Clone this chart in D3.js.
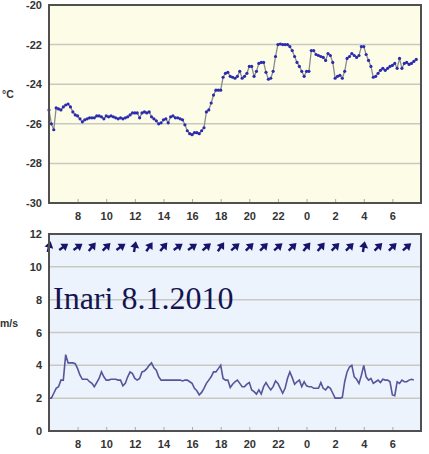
<!DOCTYPE html>
<html>
<head>
<meta charset="utf-8">
<script src="https://cdn.jsdelivr.net/npm/d3@7"></script>
<style>
  body { margin: 0; background: #fff; }
</style>
</head>
<body>
<svg width="429" height="454"></svg>
<script>
// temperature, one value every 10 minutes from 6:00 (8.1.) to 7:40 (9.1.)
var tempValues = [
  -25.3, -26.0, -26.3, -25.2, -25.25, -25.3,     // 6
  -25.15, -25.05, -25.0, -25.15, -25.4, -25.55,  // 7
  -25.6, -25.75, -25.9, -25.8, -25.75, -25.7,    // 8
  -25.7, -25.7, -25.6, -25.6, -25.65, -25.75,    // 9
  -25.6, -25.65, -25.6, -25.65, -25.7, -25.75,   // 10
  -25.7, -25.75, -25.7, -25.65, -25.55, -25.45,  // 11
  -25.45, -25.45, -25.7, -25.45, -25.4, -25.45,  // 12
  -25.4, -25.65, -25.75, -25.85, -26.0, -25.95,  // 13
  -25.8, -25.75, -25.95, -25.65, -25.6, -25.7,   // 14
  -25.7, -25.75, -25.8, -26.05, -26.35, -26.5,   // 15
  -26.55, -26.45, -26.45, -26.5, -26.35, -26.2,  // 16
  -25.4, -25.3, -24.95, -24.55, -24.3, -24.3,    // 17
  -24.3, -23.65, -23.45, -23.4, -23.6, -23.65,   // 18
  -23.7, -23.6, -23.35, -23.7, -23.6, -23.45,    // 19
  -23.1, -23.1, -23.6, -23.35, -22.95, -22.9,    // 20
  -22.9, -23.4, -23.75, -23.7, -23.35, -22.6,    // 21
  -22.0, -21.97, -22.0, -22.0, -22.0, -22.1,     // 22
  -22.3, -22.6, -22.9, -23.1, -23.35, -23.6,     // 23
  -23.35, -23.35, -22.3, -22.3, -22.5, -22.55,   // 0
  -22.6, -22.65, -22.8, -22.45, -22.55, -22.9,   // 1
  -23.7, -23.6, -23.55, -23.7, -23.35, -22.7,    // 2
  -22.6, -22.45, -22.55, -22.65, -22.55, -22.1,  // 3
  -22.1, -22.5, -22.8, -23.1, -23.65, -23.6,     // 4
  -23.45, -23.3, -23.2, -23.3, -23.2, -23.1,     // 5
  -23.05, -22.95, -23.2, -22.7, -23.2, -22.95,   // 6
  -22.9, -23.0, -22.95, -22.85, -22.75           // 7
];

// wind speed m/s, every 10 minutes from 6:00 to 7:30
var windValues = [
  2.0, 2.0, 2.3, 2.6, 2.7, 3.1,        // 6
  3.1, 4.65, 4.15, 4.15, 4.15, 4.1,    // 7
  3.8, 3.4, 3.15, 3.15, 3.15, 3.0,     // 8
  2.9, 2.7, 2.95, 3.2, 3.6, 3.3,       // 9
  3.1, 3.1, 3.15, 3.15, 3.15, 3.1,     // 10
  3.1, 2.75, 2.9, 3.3, 3.6, 3.5,       // 11
  3.2, 3.1, 3.2, 3.6, 3.65, 3.8,       // 12
  4.0, 4.15, 3.85, 3.7, 3.3, 3.1,      // 13
  3.1, 3.1, 3.1, 3.1, 3.1, 3.1,        // 14
  3.1, 3.1, 3.05, 3.1, 3.1, 3.0,       // 15
  2.9, 2.6, 2.45, 2.2, 2.35, 2.6,      // 16
  2.9, 3.1, 3.3, 3.6, 3.6, 3.8,        // 17
  4.0, 3.2, 3.1, 3.1, 2.65, 2.85,      // 18
  3.0, 3.1, 2.9, 2.7, 2.7, 2.85,       // 19
  2.95, 2.5, 2.4, 2.25, 2.5, 2.25,     // 20
  2.7, 2.95, 2.7, 2.5, 2.7, 3.05,      // 21
  2.9, 2.6, 2.3, 2.6, 3.2, 3.6,        // 22
  3.25, 2.85, 3.0, 3.1, 2.7, 3.0,      // 23
  2.75, 2.7, 2.7, 2.6, 2.6, 2.6,       // 0
  2.95, 2.6, 2.5, 2.7, 2.6, 2.3,       // 1
  2.0, 2.0, 2.0, 2.05, 3.0, 3.6,       // 2
  3.9, 4.0, 3.3, 3.15, 2.9, 3.4,       // 3
  4.0, 3.3, 3.1, 3.2, 2.9, 3.0,        // 4
  3.1, 2.95, 3.15, 3.1, 3.1, 3.0,      // 5
  2.2, 2.15, 3.0, 2.9, 3.1, 3.0,       // 6
  3.0, 3.1, 3.15, 3.1                  // 7
];

// wind direction arrows, one per hour from 6:00, degrees the arrow points to (0 = up)
var arrowAngles = [15, 55, 55, 40, 45, 55, 10, 35, 40, 55, 55, 50, 35,
                   50, 45, 45, 50, 45, 40, 40, 45, 45, 10, 45, 45, 50];

var hourTicks = [8, 10, 12, 14, 16, 18, 20, 22, 24, 26, 28, 30];
var tempTicks = [-20, -22, -24, -26, -28, -30];
var windTicks = [0, 2, 4, 6, 8, 10, 12];
var title = "Inari 8.1.2010";

var sans = "Arial, 'Liberation Sans', sans-serif";
var svg = d3.select("svg");
var left = 49, right = 421;

var x = d3.scaleLinear().domain([6, 32]).range([left, right]);
var yT = d3.scaleLinear().domain([-30, -20]).range([203, 5]);
var yW = d3.scaleLinear().domain([0, 12]).range([431, 234]);

var tempData = tempValues.map((v, i) => ({h: 6 + i / 6, v: v}));
var windData = windValues.map((v, i) => ({h: 6 + i / 6, v: v}));
var arrowData = arrowAngles.map((a, i) => ({h: 6 + i, a: a}));

function panel(y, ticks, bg, unit, unitX, unitY) {
  var top = y.range()[1], bottom = y.range()[0];
  var g = svg.append("g");
  g.append("rect")
    .attr("x", left).attr("y", top)
    .attr("width", right - left).attr("height", bottom - top)
    .attr("fill", bg);

  g.selectAll(".grid").data(ticks.filter(t => t !== y.domain()[0] && t !== y.domain()[1]))
    .enter().append("line")
    .attr("x1", left).attr("x2", right)
    .attr("y1", d => y(d)).attr("y2", d => y(d))
    .attr("stroke", "#c9c9c2").attr("stroke-width", 1.5);

  // y axis labels (plain hyphen for minus, like the original)
  var ya = g.append("g")
    .attr("transform", "translate(" + left + ",0)")
    .call(d3.axisLeft(y).tickValues(ticks).tickFormat(d => String(d)).tickSize(0).tickPadding(7));
  ya.select(".domain").remove();
  ya.selectAll("text")
    .attr("font-size", 11).attr("font-weight", "bold")
    .attr("fill", "#333").style("font-family", sans);

  // x axis
  var xa = g.append("g")
    .attr("transform", "translate(0," + bottom + ")")
    .call(d3.axisBottom(x).tickValues(hourTicks).tickFormat(d => d % 24)
      .tickSizeInner(-4).tickSizeOuter(0).tickPadding(9));
  xa.select(".domain").remove();
  xa.selectAll("line").attr("stroke", "#aaa");
  xa.selectAll("text")
    .attr("font-size", 11).attr("font-weight", "bold")
    .attr("fill", "#333").style("font-family", sans);

  g.append("text")
    .attr("x", unitX).attr("y", unitY)
    .attr("font-size", 10.5).attr("font-weight", "bold").attr("fill", "#333")
    .style("font-family", sans)
    .text(unit);

  return g;
}

var topG = panel(yT, tempTicks, "#fdfde7", "°C", 2, 98);
var botG = panel(yW, windTicks, "#edf3fc", "m/s", 0, 327);

// temperature line + markers
topG.append("path")
  .datum(tempData)
  .attr("fill", "none")
  .attr("stroke", "#8a8a8a")
  .attr("stroke-width", 1.3)
  .attr("d", d3.line().x(d => x(d.h)).y(d => yT(d.v)));

topG.selectAll(".dot").data(tempData).enter().append("circle")
  .attr("cx", d => x(d.h)).attr("cy", d => yT(d.v))
  .attr("r", 1.6).attr("fill", "#2b2bb0");

// wind line
botG.append("path")
  .datum(windData)
  .attr("fill", "none")
  .attr("stroke", "#55559a")
  .attr("stroke-width", 1.6)
  .attr("d", d3.line().x(d => x(d.h)).y(d => yW(d.v)));

// direction arrows
botG.selectAll(".arrow").data(arrowData).enter().append("g")
  .attr("transform", d => "translate(" + x(d.h) + "," + yW(11.2) + ") rotate(" + d.a + ")")
  .each(function() {
    var a = d3.select(this);
    a.append("line").attr("x1", 0).attr("y1", 5).attr("x2", 0).attr("y2", -1)
      .attr("stroke", "#15156a").attr("stroke-width", 2.4);
    a.append("path").attr("d", "M0,-6 L-4.5,0.5 L4.5,0.5 Z").attr("fill", "#15156a");
  });

botG.append("text")
  .attr("x", 53).attr("y", 309)
  .style("font-family", "'Liberation Serif', 'Times New Roman', serif")
  .attr("font-size", 32)
  .attr("fill", "#141450")
  .text(title);

// plot frames on top
[yT, yW].forEach(function(y) {
  svg.append("rect")
    .attr("x", left).attr("y", y.range()[1])
    .attr("width", right - left).attr("height", y.range()[0] - y.range()[1])
    .attr("fill", "none").attr("stroke", "#505050").attr("stroke-width", 2);
});
</script>
</body>
</html>
